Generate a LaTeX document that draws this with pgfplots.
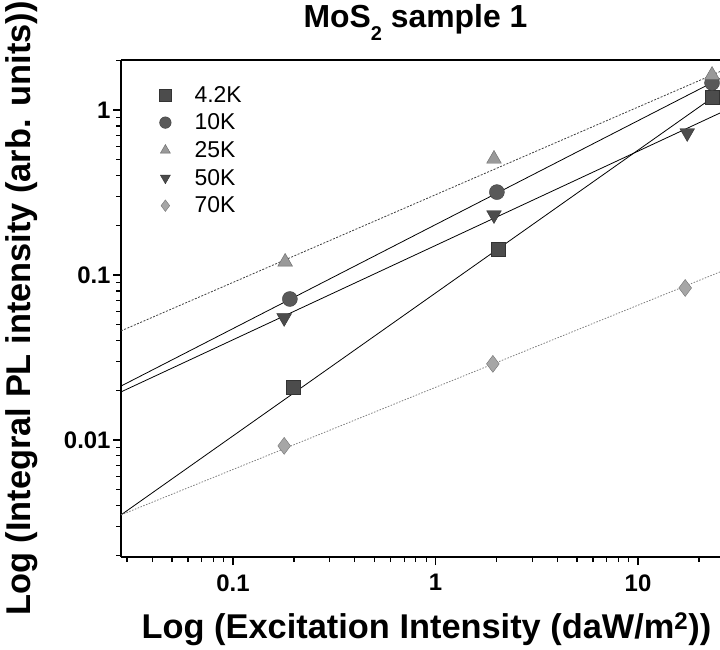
\documentclass[border=0pt]{standalone}
\usepackage{pgfplots}
\pgfplotsset{compat=1.18}
\usepackage{fontspec}
\setmainfont{Liberation Sans}
\newcommand{\tl}[1]{{\fontsize{24}{28}\selectfont\bfseries #1}}
\begin{document}
\begin{tikzpicture}
\begin{axis}[
  scale only axis, width=599bp, height=497bp,
  xmode=log, ymode=log,
  xmin=0.0280, xmax=25.4, ymin=0.00195, ymax=2.01,
  axis x line*=box, axis y line*=left,
  xtick pos=bottom, ytick pos=left,
  tick align=outside,
  major tick length=8bp, minor tick length=5bp,
  axis line style={line width=2bp},
  every outer x axis line/.append style={line width=2bp},
  every outer y axis line/.append style={line width=2bp},
  every tick/.style={black, line width=1.2bp},
  /pgf/number format/assume math mode=true,
  xtick={0.1,1,10}, xticklabels={\tl{0.1},\tl{1},\tl{10}},
  ytick={0.01,0.1,1}, yticklabels={\tl{0.01},\tl{0.1},\tl{1}},
  minor xtick={0.03,0.04,0.05,0.06,0.07,0.08,0.09,0.2,0.3,0.4,0.5,0.6,0.7,0.8,0.9,2,3,4,5,6,7,8,9,20},
  minor ytick={0.002,0.003,0.004,0.005,0.006,0.007,0.008,0.009,0.02,0.03,0.04,0.05,0.06,0.07,0.08,0.09,0.2,0.3,0.4,0.5,0.6,0.7,0.8,0.9,2},
  xticklabel style={yshift=-6bp},
  yticklabel style={xshift=1bp},
  xlabel={Log (Excitation Intensity (daW/m\textsuperscript{2}))},
  ylabel={Log (Integral PL intensity (arb. units))},
  label style={font=\fontsize{34.5}{38}\selectfont\bfseries},
  xlabel style={at={(rel axis cs:0.5,0)}, anchor=base, xshift=6bp, yshift=-81bp},
  ylabel style={at={(axis description cs:-0.1503,0.5)}, anchor=base},
  title={MoS\raisebox{-0.42em}{\fontsize{20}{22}\selectfont 2} sample 1},
  title style={font=\fontsize{32}{36}\selectfont\bfseries, at={(rel axis cs:0.5,1)}, anchor=base, xshift=-5bp, yshift=27bp},
  clip marker paths=true,
  legend style={at={(rel axis cs:0,1)}, anchor=north west, xshift=28bp, yshift=-22bp,
    draw=none, fill=none, font=\fontsize{23}{26}\selectfont, row sep=6.2bp},
  legend cell align=left,
  legend image code/.code={\path (0bp,0bp) (40bp,0bp); \draw[#1, mark size=5.8bp] plot coordinates {(13bp,0bp)};},
]
\coordinate (sw) at (rel axis cs:0,0);
\coordinate (ne) at (rel axis cs:1,1);
% fit lines
\addplot[black, line width=0.8bp, forget plot] coordinates {(0.0280,0.00351) (25.4,1.28)};
\addplot[black, line width=0.8bp, forget plot] coordinates {(0.0280,0.0212) (25.4,1.55)};
\addplot[black!75, line width=0.8bp, dash pattern=on 2bp off 1.5bp, forget plot] coordinates {(0.0280,0.0458) (25.4,1.71)};
\addplot[black, line width=0.8bp, forget plot] coordinates {(0.0280,0.01954) (25.4,0.959)};
\addplot[black!50, line width=0.8bp, dash pattern=on 1.5bp off 1.5bp, forget plot] coordinates {(0.0280,0.00351) (25.4,0.1043)};
% data
\addplot[only marks, mark=square*, mark size=7bp, draw=black!80, fill=black!70] coordinates {(0.198,0.0210) (2.05,0.1438) (23.2,1.20)};
\addlegendentry{4.2K}
\addplot[only marks, mark=*, mark size=7.5bp, draw=black!75, fill=black!65] coordinates {(0.191,0.0715) (2.01,0.318) (23.2,1.46)};
\addlegendentry{10K}
\addplot[only marks, mark=triangle*, mark size=8.5bp, draw=black!60, fill=black!40] coordinates {(0.181,0.120) (1.945,0.505) (23.2,1.63)};
\addlegendentry{25K}
\addplot[only marks, mark=triangle*, mark options={rotate=180}, mark size=8.5bp, draw=black!80, fill=black!70] coordinates {(0.179,0.0549) (1.945,0.231) (17.5,0.726)};
\addlegendentry{50K}
\addplot[only marks, mark=diamond*, mark size=8.5bp, draw=black!55, fill=black!35] coordinates {(0.179,0.0092) (1.92,0.0289) (17.1,0.0834)};
\addlegendentry{70K}
\end{axis}
\pgfresetboundingbox
\path ([xshift=-121bp,yshift=-92bp]sw) rectangle ([yshift=60bp]ne);
\end{tikzpicture}
\end{document}
